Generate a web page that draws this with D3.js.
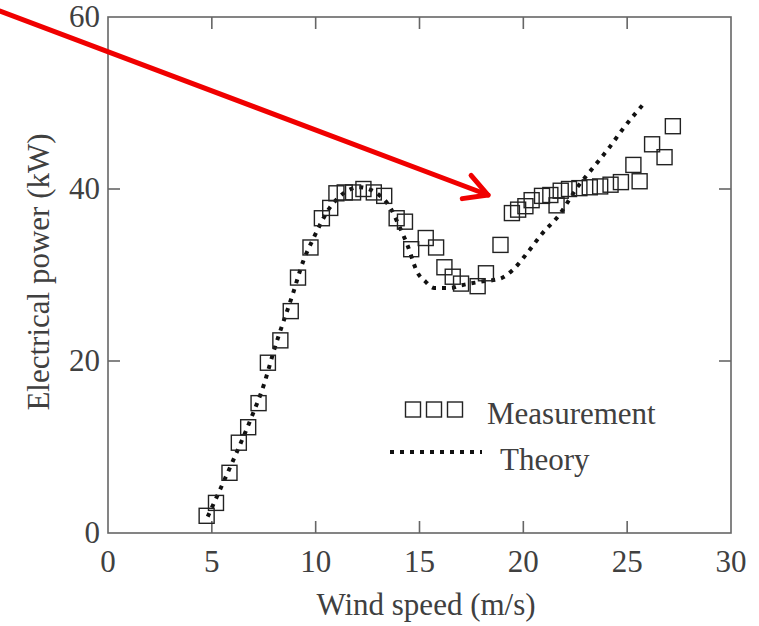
<!DOCTYPE html>
<html>
<head>
<meta charset="utf-8">
<script src="https://cdn.jsdelivr.net/npm/d3@7"></script>
<style>
  body { margin: 0; background: #fff; }
</style>
</head>
<body>
<script>
// measured points (wind speed m/s, power kW)
const measSpeed = [4.75, 5.2, 5.85, 6.3, 6.75, 7.25, 7.7, 8.3, 8.8, 9.15, 9.75, 10.3, 10.7, 11.0, 11.4, 11.8,
  12.3, 12.8, 13.3, 13.9, 14.3, 14.6, 15.3, 15.8, 16.2, 16.6, 17.0, 17.8, 18.2, 18.9, 19.45, 19.75, 20.1,
  20.4, 20.9, 21.3, 21.6, 21.8, 22.2, 22.7, 23.2, 23.7, 24.2, 24.7, 25.3, 25.6, 26.2, 26.8, 27.2];
const measPower = [2.0, 3.5, 7.0, 10.5, 12.3, 15.1, 19.8, 22.4, 25.8, 29.7, 33.2, 36.6, 37.8, 39.5, 39.6, 39.6,
  40.0, 39.6, 39.2, 36.6, 36.2, 33.0, 34.3, 33.2, 30.9, 29.8, 29.0, 28.7, 30.2, 33.5, 37.2, 37.6, 38.0,
  38.7, 39.2, 39.3, 38.1, 39.8, 40.0, 40.1, 40.2, 40.3, 40.5, 40.8, 42.8, 40.9, 45.2, 43.7, 47.3];

// theory curve
const theorySpeed = [4.8, 5.5, 6.0, 6.9, 7.5, 8.0, 8.9, 9.4, 9.9, 10.7, 11.1, 12.1, 13.2, 13.6, 14.0, 14.4,
  14.9, 15.3, 15.7, 16.5, 17.0, 17.9, 18.9, 19.5, 20.2, 20.9, 21.7, 22.6, 23.4, 24.1, 24.8, 25.9];
const theoryPower = [1.9, 5.6, 8.3, 13.4, 17.2, 21.3, 27.8, 31.6, 34.3, 37.9, 39.0, 40.2, 39.0, 37.8, 35.8, 33.6,
  30.3, 29.2, 28.5, 28.5, 28.8, 29.2, 29.6, 30.6, 32.6, 34.8, 36.9, 40.2, 42.6, 44.7, 47.0, 50.2];

const xTicks = [0, 5, 10, 15, 20, 25, 30];
const yTicks = [0, 20, 40, 60];

// red annotation arrow, in data units
const arrowFrom = [-5.2, 60.7];
const arrowTo = [18.3, 39.3];

const w = 759, h = 626;
const padL = 108, padT = 17, plotR = 731, plotB = 533;
const axisColor = "#666";
const fontFam = "'Liberation Serif', 'DejaVu Serif', serif";
const fontSize = "31px";
const textColor = "#404040";

const svg = d3.select("body").append("svg")
  .attr("width", w)
  .attr("height", h)
  .attr("font-family", fontFam);

const x = d3.scaleLinear().domain([0, 30]).range([padL, plotR]);
const y = d3.scaleLinear().domain([0, 60]).range([plotB, padT]);

function label(sel) {
  return sel.attr("font-family", fontFam)
    .attr("font-size", fontSize)
    .attr("fill", textColor);
}

// frame
svg.append("rect")
  .attr("x", padL).attr("y", padT)
  .attr("width", plotR - padL).attr("height", plotB - padT)
  .attr("fill", "none").attr("stroke", axisColor).attr("stroke-width", 1.6);

// inward ticks on all four sides
const tl = 12;
const xInner = xTicks.slice(1, -1);
const yInner = yTicks.slice(1, -1);
const ticks = svg.append("g").attr("stroke", axisColor).attr("stroke-width", 1.6);
xInner.forEach(t => {
  ticks.append("line").attr("x1", x(t)).attr("x2", x(t)).attr("y1", plotB).attr("y2", plotB - tl);
  ticks.append("line").attr("x1", x(t)).attr("x2", x(t)).attr("y1", padT).attr("y2", padT + tl);
});
yInner.forEach(t => {
  ticks.append("line").attr("x1", padL).attr("x2", padL + tl).attr("y1", y(t)).attr("y2", y(t));
  ticks.append("line").attr("x1", plotR).attr("x2", plotR - tl).attr("y1", y(t)).attr("y2", y(t));
});

// tick labels
svg.selectAll(".xlab")
  .data(xTicks)
  .enter()
  .append("text")
  .attr("class", "xlab")
  .attr("x", d => x(d))
  .attr("y", 572)
  .attr("text-anchor", "middle")
  .call(label)
  .text(d => d);

svg.selectAll(".ylab")
  .data(yTicks)
  .enter()
  .append("text")
  .attr("class", "ylab")
  .attr("x", padL - 8)
  .attr("y", d => y(d))
  .attr("dy", "0.33em")
  .attr("text-anchor", "end")
  .call(label)
  .text(d => d);

// axis titles
svg.append("text")
  .attr("x", 426)
  .attr("y", 615)
  .attr("text-anchor", "middle")
  .call(label)
  .text("Wind speed (m/s)");

svg.append("text")
  .attr("transform", "translate(49,272) rotate(-90)")
  .attr("text-anchor", "middle")
  .call(label)
  .text("Electrical power (kW)");

// theory dotted curve
const theory = theorySpeed.map((s, i) => [s, theoryPower[i]]);
const line = d3.line()
  .x(d => x(d[0]))
  .y(d => y(d[1]))
  .curve(d3.curveMonotoneX);

svg.append("path")
  .datum(theory)
  .attr("d", line)
  .attr("fill", "none")
  .attr("stroke", "#111")
  .attr("stroke-width", 4)
  .attr("stroke-dasharray", "4,6");

// measurement squares
const sq = 15;
const meas = measSpeed.map((s, i) => ({ s: s, p: measPower[i] }));
svg.selectAll(".meas")
  .data(meas)
  .enter()
  .append("rect")
  .attr("class", "meas")
  .attr("x", d => x(d.s) - sq / 2)
  .attr("y", d => y(d.p) - sq / 2)
  .attr("width", sq)
  .attr("height", sq)
  .attr("fill", "none")
  .attr("stroke", "#222")
  .attr("stroke-width", 1.4);

// legend
const legend = svg.append("g").attr("id", "legend");
[413, 434, 455].forEach(cx => {
  legend.append("rect")
    .attr("x", cx - 7.5).attr("y", 402)
    .attr("width", 15).attr("height", 15)
    .attr("fill", "none").attr("stroke", "#222").attr("stroke-width", 1.4);
});
legend.append("text")
  .attr("x", 487).attr("y", 424)
  .call(label)
  .text("Measurement");
legend.append("line")
  .attr("x1", 390).attr("x2", 482)
  .attr("y1", 452).attr("y2", 452)
  .attr("stroke", "#111").attr("stroke-width", 4)
  .attr("stroke-dasharray", "4,6");
legend.append("text")
  .attr("x", 500).attr("y", 470)
  .call(label)
  .text("Theory");

// red arrow
const ax0 = x(arrowFrom[0]), ay0 = y(arrowFrom[1]);
const ax1 = x(arrowTo[0]), ay1 = y(arrowTo[1]);
const ang = Math.atan2(ay1 - ay0, ax1 - ax0);
const headLen = 26, spread = 0.5;
svg.append("line")
  .attr("x1", ax0).attr("y1", ay0)
  .attr("x2", ax1).attr("y2", ay1)
  .attr("stroke", "#f00000").attr("stroke-width", 5)
  .attr("stroke-linecap", "round");
svg.append("path")
  .attr("d", "M" + (ax1 - headLen * Math.cos(ang - spread)) + "," + (ay1 - headLen * Math.sin(ang - spread)) +
    "L" + ax1 + "," + ay1 +
    "L" + (ax1 - headLen * Math.cos(ang + spread)) + "," + (ay1 - headLen * Math.sin(ang + spread)))
  .attr("fill", "none")
  .attr("stroke", "#f00000").attr("stroke-width", 5)
  .attr("stroke-linecap", "round").attr("stroke-linejoin", "round");
</script>
</body>
</html>
